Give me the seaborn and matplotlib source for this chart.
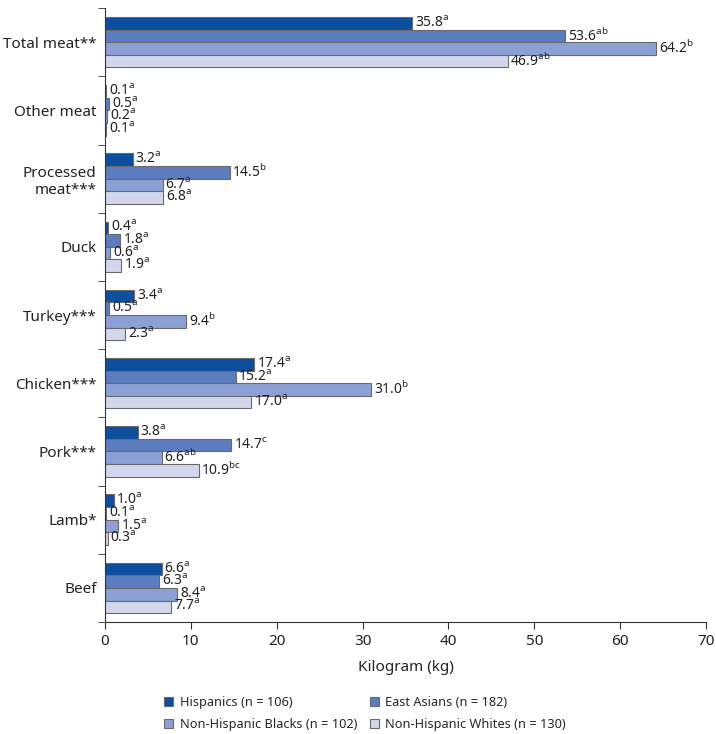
import numpy as np
import pandas as pd
import seaborn as sns
import matplotlib.pyplot as plt

categories = ["Total meat**", "Other meat", "Processed\nmeat***", "Duck", "Turkey***",
              "Chicken***", "Pork***", "Lamb*", "Beef"]
groups = ["Hispanics (n = 106)", "East Asians (n = 182)",
          "Non-Hispanic Blacks (n = 102)", "Non-Hispanic Whites (n = 130)"]

hispanics = [35.8, 0.1, 3.2, 0.4, 3.4, 17.4, 3.8, 1.0, 6.6]
east_asians = [53.6, 0.5, 14.5, 1.8, 0.5, 15.2, 14.7, 0.1, 6.3]
blacks = [64.2, 0.2, 6.7, 0.6, 9.4, 31.0, 6.6, 1.5, 8.4]
whites = [46.9, 0.1, 6.8, 1.9, 2.3, 17.0, 10.9, 0.3, 7.7]

sup_hisp = ["a", "a", "a", "a", "a", "a", "a", "a", "a"]
sup_east = ["ab", "a", "b", "a", "a", "a", "c", "a", "a"]
sup_black = ["b", "a", "a", "a", "b", "b", "ab", "a", "a"]
sup_white = ["ab", "a", "a", "a", "a", "a", "bc", "a", "a"]

colors = ["#0b4f9e", "#5b7cbf", "#8ba0d4", "#d2d7ee"]

sns.set_style("ticks")
plt.rcParams["font.family"] = ["Noto Sans", "DejaVu Sans"]
plt.rcParams["mathtext.fontset"] = "custom"
plt.rcParams["mathtext.rm"] = "Noto Sans"

rows = []
for g, vals in zip(groups, [hispanics, east_asians, blacks, whites]):
    for c, v in zip(categories, vals):
        rows.append({"Category": c, "Group": g, "Value": v})
df = pd.DataFrame(rows)

fig = plt.figure(figsize=(7.16, 7.34), dpi=100)
ax = fig.add_axes([0.1467, 0.1526, 0.8393, 0.8364])

sns.barplot(data=df, x="Value", y="Category", hue="Group", order=categories,
            hue_order=groups, palette=colors, saturation=1, orient="h", width=0.74,
            edgecolor="#6a6a6a", linewidth=0.8, ax=ax)

for cont, vals, sups in zip(ax.containers, [hispanics, east_asians, blacks, whites],
                            [sup_hisp, sup_east, sup_black, sup_white]):
    labels = [f"{v:.1f}$^{{\\mathrm{{{s}}}}}$" for v, s in zip(vals, sups)]
    ax.bar_label(cont, labels=labels, padding=2, fontsize=10, color="#222222")

ax.set_xlim(0, 70)
ax.set_xticks(np.arange(0, 71, 10))
ax.set_ylim(len(categories) - 0.5, -0.5)
ax.set_yticks(np.arange(len(categories)))
ax.set_yticklabels(categories, fontsize=11, color="#222222")
ax.set_yticks(np.arange(-0.5, len(categories), 1), minor=True)
ax.tick_params(axis="y", which="major", length=0, pad=6)
ax.tick_params(axis="y", which="minor", length=5, color="#333333")
ax.tick_params(axis="x", labelsize=11, length=5, colors="#333333", labelcolor="#222222")
ax.set_ylabel("")
ax.set_xlabel("Kilogram (kg)", fontsize=11, color="#222222", labelpad=8)
sns.despine(ax=ax)
ax.spines["left"].set_color("#333333")
ax.spines["bottom"].set_color("#333333")

handles, labs = ax.get_legend_handles_labels()
ax.get_legend().remove()
order = [0, 2, 1, 3]
fig.legend([handles[i] for i in order], [labs[i] for i in order],
           loc="lower center", bbox_to_anchor=(0.51, -0.012), ncol=2,
           frameon=False, fontsize=9.2, handlelength=0.7, handleheight=0.7,
           columnspacing=1.0, handletextpad=0.5, labelspacing=0.75)

fig.savefig("out.png", dpi=100)
